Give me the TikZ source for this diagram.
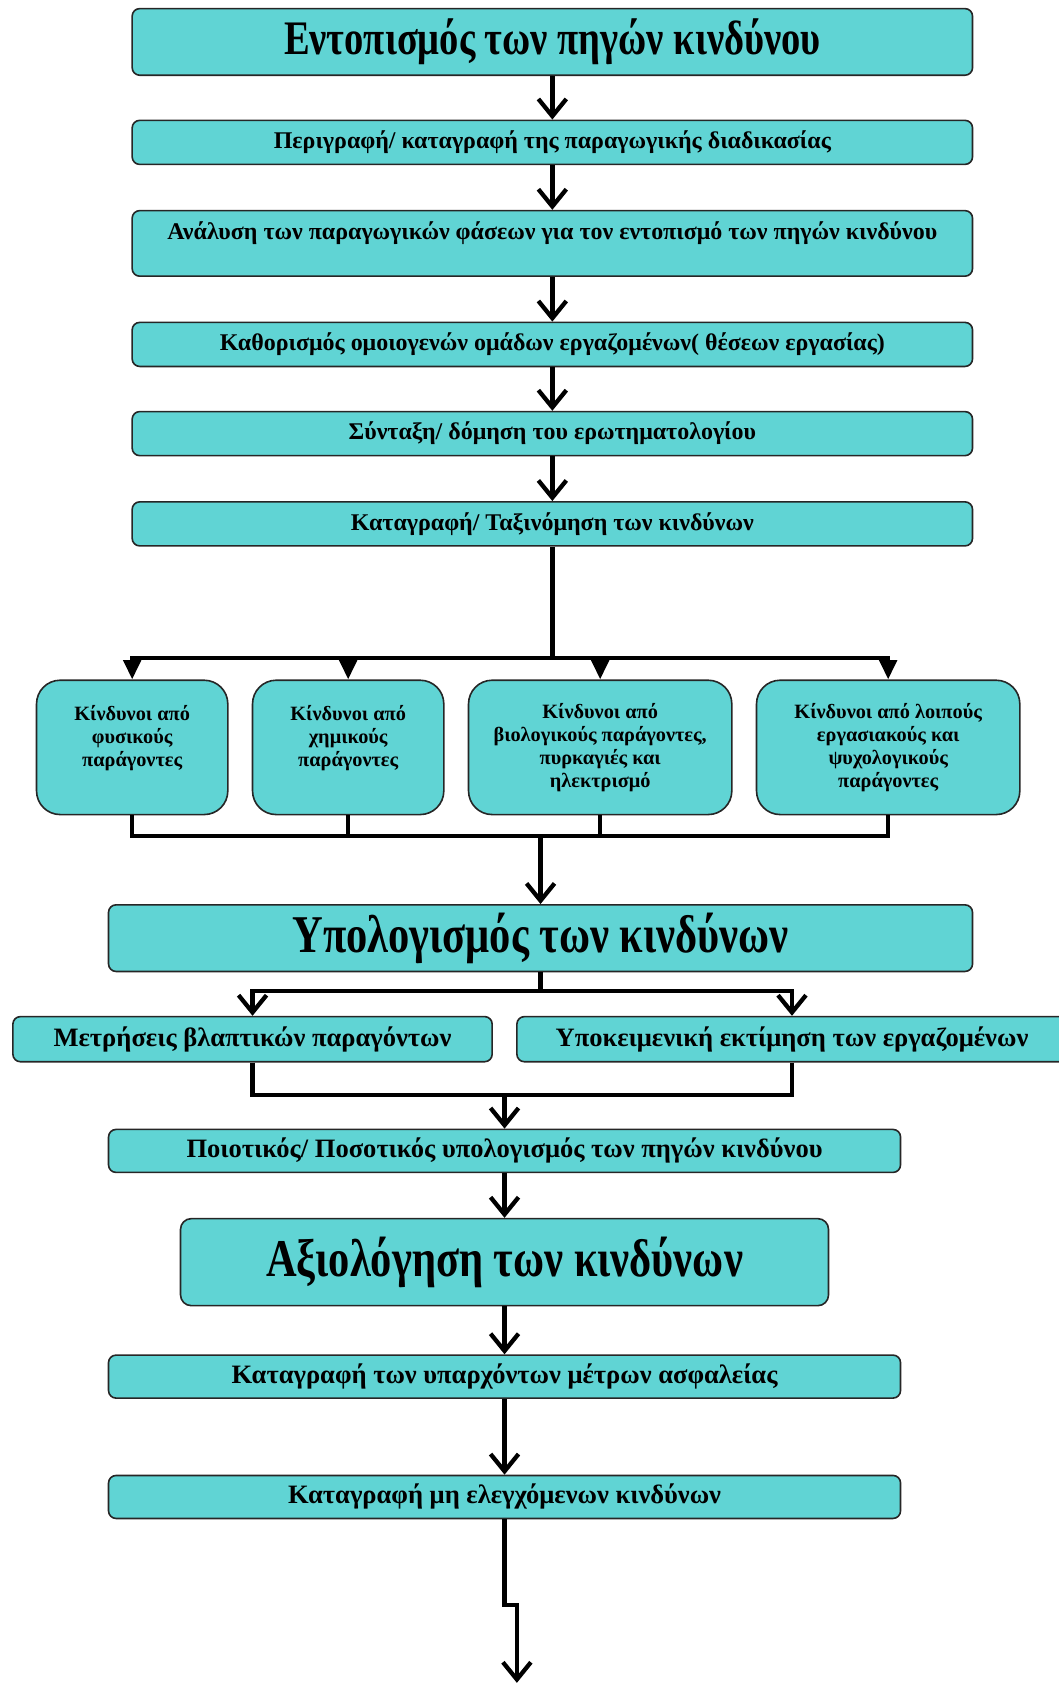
\documentclass[tikz,border=0pt]{standalone}
\usepackage{fontspec}
\setmainfont{Liberation Serif}
\newfontfamily\condfont{Liberation Serif}[FakeStretch=0.8]
\usetikzlibrary{arrows.meta}
\definecolor{boxfill}{RGB}{96,212,212}
\begin{document}
\begin{tikzpicture}[x=1pt,y=-1pt,
  box/.style={draw=black!85, line width=1.5pt, fill=boxfill, rounded corners=7pt,
    inner sep=0pt, align=center, font=\bfseries},
  titletxt/.style={font=\condfont\bfseries\fontsize{44.8}{48}\selectfont},
  bigtxt/.style={font=\condfont\bfseries\fontsize{49.4}{52}\selectfont},
  midtxt/.style={font=\bfseries\fontsize{22.3}{24}\selectfont},
  medtxt/.style={font=\bfseries\fontsize{24.7}{27}\selectfont},
  smalltxt/.style={font=\bfseries\fontsize{18.9}{21.5}\selectfont},
  conn/.style={line width=4pt},
  vhead/.style={line width=4pt, -{Straight Barb[length=16pt,width=26pt]}},
  thead/.style={line width=4pt, -{Triangle[length=18pt,width=16pt]}},
]
\useasboundingbox (0,0) rectangle (985,1568);

\node[box, titletxt, minimum width=782, minimum height=62] (b1) at (514,39) {Εντοπισμός των πηγών κινδύνου};
\node[box, midtxt, minimum width=782, minimum height=41] (b2) at (514,132.5) {Περιγραφή/ καταγραφή της παραγωγικής διαδικασίας};
\node[box, midtxt, minimum width=782, minimum height=61] (b3) at (514,226.5) {Ανάλυση των παραγωγικών φάσεων για τον εντοπισμό των πηγών κινδύνου\\ ~};
\node[box, midtxt, minimum width=782, minimum height=41] (b4) at (514,320.5) {Καθορισμός ομοιογενών ομάδων εργαζομένων( θέσεων εργασίας)};
\node[box, midtxt, minimum width=782, minimum height=41] (b5) at (514,403.5) {Σύνταξη/ δόμηση του ερωτηματολογίου};
\node[box, midtxt, minimum width=782, minimum height=41] (b6) at (514,487.5) {Καταγραφή/ Ταξινόμηση των κινδύνων};

\node[box, smalltxt, rounded corners=22pt, minimum width=178, minimum height=125] (k1) at (123,695.5) {Κίνδυνοι από\\φυσικούς\\παράγοντες\\ ~};
\node[box, smalltxt, rounded corners=22pt, minimum width=178, minimum height=125] (k2) at (324,695.5) {Κίνδυνοι από\\χημικούς\\παράγοντες\\ ~};
\node[box, smalltxt, rounded corners=22pt, minimum width=245, minimum height=125] (k3) at (558.5,695.5) {Κίνδυνοι από\\βιολογικούς παράγοντες,\\πυρκαγιές και\\ηλεκτρισμό};
\node[box, smalltxt, rounded corners=22pt, minimum width=245, minimum height=125] (k4) at (826.5,695.5) {Κίνδυνοι από λοιπούς\\εργασιακούς και\\ψυχολογικούς\\παράγοντες};

\node[box, bigtxt, minimum width=804, minimum height=62] (u) at (503,873) {Υπολογισμός των κινδύνων};
\node[box, medtxt, minimum width=446, minimum height=42] (m1) at (235,967) {Μετρήσεις βλαπτικών παραγόντων};
\node[box, medtxt, minimum width=512, minimum height=42] (m2) at (737,967) {Υποκειμενική εκτίμηση των εργαζομένων};
\node[box, medtxt, minimum width=737, minimum height=40] (p) at (469.5,1071) {Ποιοτικός/ Ποσοτικός υπολογισμός των πηγών κινδύνου};
\node[box, bigtxt, rounded corners=10pt, minimum width=603, minimum height=81] (a) at (469.5,1174.5) {Αξιολόγηση των κινδύνων};
\node[box, medtxt, minimum width=737, minimum height=40] (c1) at (469.5,1281) {Καταγραφή των υπαρχόντων μέτρων ασφαλείας};
\node[box, medtxt, minimum width=737, minimum height=40] (c2) at (469.5,1393) {Καταγραφή μη ελεγχόμενων κινδύνων};

\draw[vhead] (b1) -- (b2);
\draw[vhead] (b2) -- (b3);
\draw[vhead] (b3) -- (b4);
\draw[vhead] (b4) -- (b5);
\draw[vhead] (b5) -- (b6);

\coordinate (j1) at (514,612);
\draw[conn] (b6) -- (j1);
\foreach \k in {k1,k2,k3,k4} \draw[thead] (j1) -| (\k.north);

\coordinate (j2) at (503,778);
\foreach \k in {k1,k2,k3,k4} \draw[line width=3.5pt] (\k.south) |- (j2);
\draw[vhead] (j2) -- (u);

\coordinate (j3) at (503,922);
\draw[conn] (u) -- (j3);
\draw[vhead] (j3) -| (m1.north);
\draw[vhead] (j3) -| (m2.north);

\coordinate (j4) at (469.5,1019);
\draw[conn] (m1.south) |- (j4);
\draw[conn] (m2.south) |- (j4);
\draw[vhead] (j4) -- (p);

\draw[vhead] (p) -- (a);
\draw[vhead] (a) -- (c1);
\draw[vhead] (c1) -- (c2);

\coordinate (e) at (481,1566);
\draw[vhead] (c2.south) -- ++(0,80) -| (e);
\end{tikzpicture}
\end{document}
